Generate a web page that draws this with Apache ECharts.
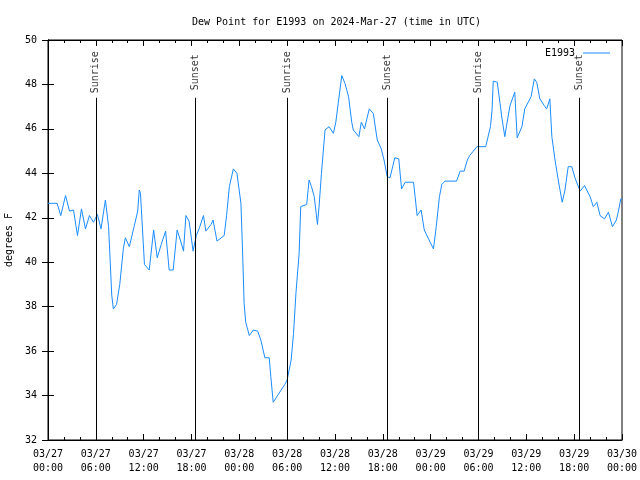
<!DOCTYPE html>
<html>
<head>
<meta charset="utf-8">
<script src="https://cdn.jsdelivr.net/npm/echarts@6/dist/echarts.min.js"></script>
<style>html,body{margin:0;padding:0;background:#fff}#c{width:640px;height:480px}</style>
</head>
<body>
<div id="c"></div>
<script>
// hours since 2024-03-27 00:00 UTC
var hours = [0.0,1.15,1.6,2.2,2.7,3.2,3.7,4.2,4.7,5.2,5.7,6.2,6.65,7.2,7.6,8.0,8.2,8.6,9.0,9.45,9.7,10.2,10.8,11.25,11.45,11.6,12.1,12.7,13.25,13.7,14.2,14.75,15.2,15.7,16.2,16.6,17.0,17.3,17.7,18.2,18.6,19.0,19.5,19.8,20.45,20.7,21.2,22.1,22.4,22.75,23.25,23.7,24.2,24.4,24.6,24.8,25.25,25.75,26.3,26.7,27.2,27.75,27.95,28.25,29.7,30.0,30.5,30.8,31.1,31.5,31.7,32.45,32.75,33.05,33.4,33.8,34.0,34.3,34.75,35.25,35.8,36.1,36.4,36.85,37.25,37.7,38.1,38.3,39.0,39.3,39.7,40.3,40.8,41.3,41.8,42.15,42.55,42.9,43.5,44.0,44.35,44.8,45.85,46.05,46.3,46.8,47.2,47.8,48.35,48.7,49.1,49.4,49.8,51.25,51.7,52.2,52.6,52.9,53.8,54.9,55.5,55.7,55.85,56.35,56.7,56.95,57.3,57.5,57.95,58.55,58.85,59.45,59.8,60.6,61.0,61.3,61.7,62.25,62.55,62.95,63.2,63.6,64.0,64.5,64.85,65.25,65.7,66.1,66.75,67.3,68.0,68.4,68.85,69.25,69.8,70.3,70.8,71.3,71.55,71.85,72.0];
var dewF = [42.65,42.65,42.1,43.0,42.3,42.35,41.2,42.4,41.5,42.1,41.8,42.15,41.5,42.8,41.6,38.5,37.9,38.1,39.0,40.6,41.1,40.7,41.6,42.3,43.25,43.1,39.9,39.65,41.45,40.2,40.8,41.4,39.65,39.65,41.45,41.0,40.5,42.1,41.85,40.5,41.2,41.55,42.1,41.4,41.7,41.9,40.95,41.2,42.1,43.4,44.2,44.0,42.65,40.55,38.15,37.3,36.7,36.95,36.9,36.5,35.7,35.7,34.85,33.7,34.5,34.7,35.6,36.8,38.6,40.4,42.5,42.6,43.7,43.4,42.95,41.7,42.5,44.0,45.95,46.1,45.8,46.3,47.15,48.4,48.05,47.45,46.3,45.95,45.65,46.3,46.0,46.9,46.7,45.5,45.1,44.6,43.85,43.8,44.7,44.65,43.3,43.6,43.6,42.95,42.1,42.35,41.45,41.0,40.6,41.6,42.95,43.5,43.65,43.65,44.1,44.1,44.6,44.8,45.2,45.2,46.1,46.85,48.15,48.1,47.15,46.45,45.65,46.1,47.05,47.65,45.6,46.1,46.9,47.45,48.25,48.1,47.35,47.05,46.9,47.35,45.65,44.6,43.7,42.7,43.25,44.3,44.3,43.8,43.2,43.45,42.95,42.5,42.7,42.1,41.95,42.25,41.6,41.9,42.3,42.85,42.85];
var sunEventHours = [6.0, 18.5, 30.05, 42.55, 54.0, 66.65];
var sunEventNames = ['Sunrise','Sunset','Sunrise','Sunset','Sunrise','Sunset'];
var stationName = 'E1993';
var titleText = 'Dew Point for E1993 on 2024-Mar-27 (time in UTC)';
var yTicks = [32,34,36,38,40,42,44,46,48,50];

var FONT = '"DejaVu Sans Mono", "Liberation Mono", monospace';
var lineData = hours.map(function(h,i){return [h, dewF[i]];});
var sunLabelY = 48.55, sunLineTop = 47.4;
var sunLabels = sunEventHours.map(function(h,i){return {value:[h, sunLabelY], name: sunEventNames[i]};});
var sunLines = sunEventHours.map(function(h){return [{coord:[h, 32]},{coord:[h, sunLineTop]}];});

function fmtX(v){
  var d = 27 + Math.floor(v/24 + 1e-9);
  var hh = Math.round(v - (d-27)*24);
  return '03/' + d + '\n' + (hh<10?'0':'') + hh + ':00';
}

var chart = echarts.init(document.getElementById('c'), null, {renderer:'canvas'});
chart.setOption({
  animation: false,
  backgroundColor: '#fff',
  title: {text: titleText, left: 187, top: 12,
    textStyle:{fontFamily: FONT, fontSize: 10, fontWeight:'normal', color:'#000'}},
  legend: {data:[{name: stationName, icon:'rect'}], right: 25, top: 43, align:'right', itemWidth: 27, itemHeight: 1, itemGap: 0,
    textStyle:{fontFamily: FONT, fontSize: 10, color:'#000', padding:[0,3,0,0]}},
  grid: {left: 48, right: 18, top: 40, bottom: 40, containLabel:false, outerBoundsMode:'none',
    show: true, borderColor:'#000', borderWidth:1, backgroundColor:'transparent'},
  xAxis: [{
    type:'value', min:0, max:72, interval:6, position:'bottom',
    axisLine:{show:true, lineStyle:{color:'#000', width:1}},
    axisTick:{show:true, inside:true, length:6, lineStyle:{color:'#000'}},
    minorTick:{show:true, splitNumber:3, length:3, lineStyle:{color:'#000'}},
    splitLine:{show:false},
    axisLabel:{formatter: fmtX, fontFamily: FONT, fontSize:10, color:'#000', margin:7, lineHeight:14, showMaxLabel:true, showMinLabel:true}
  },{
    type:'value', min:0, max:72, interval:6, position:'top',
    axisLine:{show:true, lineStyle:{color:'#000', width:1}},
    axisTick:{show:true, inside:true, length:6, lineStyle:{color:'#000'}},
    minorTick:{show:true, splitNumber:3, length:3, lineStyle:{color:'#000'}},
    splitLine:{show:false}, axisLabel:{show:false}
  }],
  yAxis: [{
    type:'value', min: yTicks[0], max: yTicks[yTicks.length-1], interval:2, position:'left',
    name:'degrees F', nameLocation:'middle', nameGap:33, nameRotate:90,
    nameTextStyle:{fontFamily: FONT, fontSize:10, color:'#000'},
    axisLine:{show:true, lineStyle:{color:'#000'}},
    axisTick:{show:true, inside:true, length:6, lineStyle:{color:'#000'}},
    splitLine:{show:false},
    axisLabel:{fontFamily: FONT, fontSize:10, color:'#000', margin:11}
  },{
    type:'value', min: yTicks[0], max: yTicks[yTicks.length-1], interval:2, position:'right',
    axisLine:{show:true, lineStyle:{color:'#000'}},
    axisTick:{show:true, inside:true, length:6, lineStyle:{color:'#000'}},
    splitLine:{show:false}, axisLabel:{show:false}
  }],
  series: [{
    name: stationName, type:'line', data: lineData, xAxisIndex:0, yAxisIndex:0,
    symbol:'none', showSymbol:false, color:'#1a8cff',
    lineStyle:{width:1, color:'#1a8cff'}, z:3
  },{
    name:'sun', type:'scatter', data: sunLabels, xAxisIndex:0, yAxisIndex:0,
    symbolSize:1, itemStyle:{color:'rgba(0,0,0,0)'}, silent:true,
    label:{show:true, position:'inside', rotate:90, formatter: function(p){return p.name;},
      fontFamily: FONT, fontSize:10, color:'#000'},
    markLine:{silent:true, symbol:['none','none'], label:{show:false},
      lineStyle:{color:'#000', width:1, type:'solid'}, data: sunLines}
  }]
});
</script>
</body>
</html>
